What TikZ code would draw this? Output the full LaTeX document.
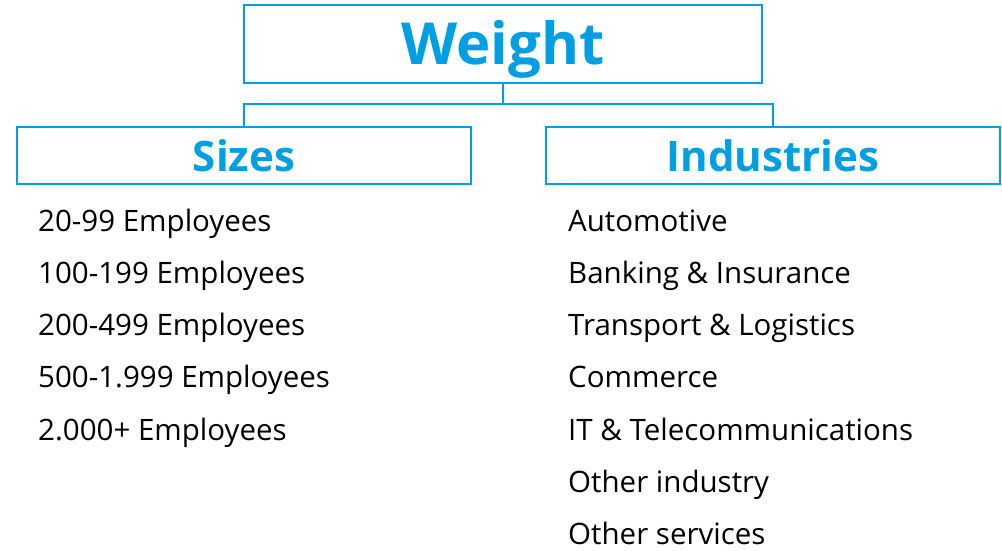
\documentclass[tikz,border=0pt]{standalone}
\usepackage{fontspec}
\setmainfont{Open Sans}
\usetikzlibrary{positioning}
\definecolor{wblue}{RGB}{0,159,227}
\tikzset{
    x=1pt, y=-1pt, % one unit is one pixel of the layout
    box/.style={draw=wblue, line width=1.5pt, inner sep=0pt, text=wblue}, % the framed headings
    link/.style={draw=wblue, line width=1.5pt}, % the tree lines
    item/.style={anchor=west, inner sep=0pt, text height=21pt, text depth=5pt, font=\fontsize{29.5}{32}\selectfont}, % list entries
    node distance=25.9pt, % gap between list entries
}
\begin{document}
\begin{tikzpicture}
    \useasboundingbox (0,0) rectangle (1002,550);
    \node[box, minimum width=518pt, minimum height=78pt, text depth=4pt, font=\fontsize{58}{60}\bfseries] (weight) at (503,44) {Weight};
    \node[box, minimum width=454pt, minimum height=57pt, font=\fontsize{42}{46}\bfseries] (sizes) at (244,155.5) {Sizes};
    \node[box, minimum width=454pt, minimum height=57pt, font=\fontsize{42}{46}\bfseries] (industries) at (773,155.5) {Industries};
    \coordinate (split) at (503,104);
    \draw[link] (weight.south) -- (split) -| (sizes.north);
    \draw[link] (split) -| (industries.north);
    % sizes
    \node[item] (s1) at (38,223) {20-99 Employees};
    \node[item, below=of s1.south west, anchor=north west] (s2) {100-199 Employees};
    \node[item, below=of s2.south west, anchor=north west] (s3) {200-499 Employees};
    \node[item, below=of s3.south west, anchor=north west] (s4) {500-1.999 Employees};
    \node[item, below=of s4.south west, anchor=north west] (s5) {2.000+ Employees};
    % industries
    \node[item] (i1) at (568,223) {Automotive};
    \node[item, below=of i1.south west, anchor=north west] (i2) {Banking \& Insurance};
    \node[item, below=of i2.south west, anchor=north west] (i3) {Transport \& Logistics};
    \node[item, below=of i3.south west, anchor=north west] (i4) {Commerce};
    \node[item, below=of i4.south west, anchor=north west] (i5) {IT \& Telecommunications};
    \node[item, below=of i5.south west, anchor=north west] (i6) {Other industry};
    \node[item, below=of i6.south west, anchor=north west] (i7) {Other services};
\end{tikzpicture}
\end{document}
